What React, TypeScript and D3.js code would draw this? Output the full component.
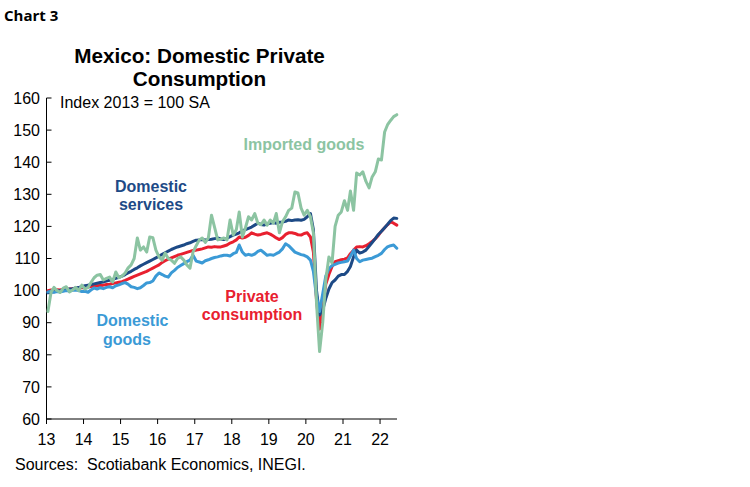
import React from "react";
import * as d3 from "d3";

// Monthly data, Jan 2013 – Jun 2022 (index 2013 = 100, SA)
const domesticServices = [
  99.3, 99.5, 99.6, 99.8, 100.0, 100.1, 100.3, 100.5, 100.6, 100.8, 101.0, 101.2,
  101.5, 101.7, 101.9, 102.1, 102.3, 102.5, 102.7, 103.0, 103.2, 103.5, 103.8, 104.1,
  104.5, 105.0, 105.5, 106.0, 106.6, 107.1, 107.7, 108.2, 108.7, 109.2, 109.7, 110.2,
  110.7, 111.3, 111.8, 112.3, 112.8, 113.2, 113.6, 113.9, 114.2, 114.6, 114.9, 115.3,
  115.7, 115.8, 115.9, 115.8, 115.9, 116.0, 116.2, 116.4, 116.1, 115.9, 116.3, 116.8,
  117.3, 117.6, 118.0, 118.6, 119.0, 119.4, 119.8, 120.4, 121.0, 120.6, 120.4, 120.8,
  121.0, 121.2, 121.0, 121.3, 121.4, 121.6, 122.0, 121.8, 122.0, 122.1, 121.9, 122.2,
  123.0, 124.0, 119.0, 100.0, 92.4, 94.0, 97.5, 100.5, 102.5, 103.3, 104.5, 105.0,
  105.0, 106.0, 107.5, 110.5, 112.6, 111.7, 112.0, 112.6, 113.8, 115.0, 116.2, 117.5,
  118.5, 119.6, 120.6, 121.8, 122.6, 122.5,
];

const privateConsumption = [
  100.0, 100.2, 100.1, 100.3, 100.2, 100.4, 100.3, 100.5, 100.6, 100.7, 100.8, 100.9,
  101.0, 101.1, 101.3, 101.4, 101.5, 101.6, 101.7, 101.9, 102.0, 102.2, 102.4, 102.6,
  102.8, 103.2, 103.6, 104.0, 104.4, 104.8, 105.2, 105.6, 106.0, 106.5, 107.0, 107.5,
  108.0, 108.8, 109.3, 109.8, 110.2, 110.6, 111.0, 111.3, 111.6, 111.9, 112.2, 112.5,
  112.6, 112.8, 113.0, 113.3, 113.6, 113.5, 113.7, 113.6, 113.6, 113.9, 114.2, 114.8,
  115.2, 115.8, 116.7, 116.4, 116.6, 117.2, 118.0, 117.6, 117.3, 117.5, 117.8, 118.0,
  117.6, 117.0, 116.4, 115.9, 116.5, 117.5, 118.0, 118.0, 117.8, 117.4, 117.3, 117.8,
  118.0, 116.7, 112.0, 97.0, 88.0, 95.0, 102.0, 105.0, 107.5, 109.0, 109.3, 109.6,
  109.8, 110.2, 111.5, 112.6, 113.6, 113.7, 113.6, 114.0, 114.6, 115.3, 116.2, 117.2,
  118.5, 119.6, 120.5, 121.4, 121.0, 120.4,
];

const domesticGoods = [
  99.6, 99.8, 99.5, 99.7, 99.6, 99.8, 100.0, 99.9, 100.1, 100.2, 100.0, 99.7,
  99.8, 99.5, 100.2, 100.8, 100.5, 100.9, 100.6, 101.0, 101.2, 100.9, 101.5, 101.8,
  102.2, 102.5, 102.0, 101.2, 101.0, 100.6, 100.9, 101.6, 102.4, 102.5, 103.0, 104.5,
  105.5, 105.0, 104.5, 104.2, 105.5, 106.3, 107.2, 107.8, 108.4, 109.0, 109.5, 111.0,
  109.2, 108.9, 108.6, 109.3, 109.6, 110.0, 110.3, 110.5, 110.8, 111.0, 111.0, 110.8,
  111.5, 111.9, 114.2, 112.0, 111.0, 111.3, 111.0, 111.4, 112.2, 112.6, 111.8, 111.0,
  111.2, 111.0, 111.5, 112.0, 113.0, 114.6, 114.0, 113.0, 112.0, 111.6, 111.2, 111.0,
  110.5, 109.5, 106.0, 98.0, 93.5, 99.0, 104.5, 106.8, 107.8, 108.2, 108.6, 108.8,
  109.0, 109.2, 110.8, 112.6, 110.0, 109.0, 109.5, 109.7, 109.9, 110.1, 110.6, 111.0,
  111.6, 112.8, 113.6, 114.0, 114.2, 113.2,
];

const importedGoods = [
  93.5, 99.5, 101.0, 100.0, 99.4, 100.8, 101.2, 99.6, 100.2, 101.0, 100.0, 101.7,
  100.5, 101.0, 102.5, 104.0, 104.8, 105.0, 103.3, 103.8, 104.2, 102.7, 105.8, 104.0,
  104.5, 105.5, 107.0, 108.0, 110.0, 116.4, 112.6, 113.6, 112.0, 116.7, 116.5, 112.6,
  110.5, 109.5, 111.7, 110.0, 109.5, 108.5, 110.0, 110.5, 109.5, 108.0, 107.0, 112.0,
  114.0, 115.8, 116.4, 115.0, 116.4, 123.5, 119.8, 115.8, 116.0, 116.4, 115.8, 122.0,
  117.3, 119.0, 124.5, 116.7, 119.5, 123.0, 122.0, 124.0, 121.0, 120.5, 122.0, 120.4,
  122.0, 121.0, 124.0, 118.0, 121.4, 123.0, 125.0, 125.7, 130.7, 130.4, 125.7, 123.5,
  125.0, 123.0, 118.0, 96.0, 81.0, 90.0, 103.3, 110.5, 108.6, 120.0, 123.5, 124.5,
  128.0, 125.0, 131.0, 125.0, 136.6, 136.0, 137.0, 134.0, 132.0, 135.4, 137.0, 141.0,
  140.7, 149.4, 151.6, 153.0, 154.2, 154.8,
];

const yTicks = [60, 70, 80, 90, 100, 110, 120, 130, 140, 150, 160];
const xTickYears = [2013, 2014, 2015, 2016, 2017, 2018, 2019, 2020, 2021, 2022];
const xTickLabels = ["13", "14", "15", "16", "17", "18", "19", "20", "21", "22"];

const series = [
  { name: "Private consumption", values: privateConsumption, color: "#e8202f" },
  { name: "Domestic services", values: domesticServices, color: "#1d4a86" },
  { name: "Domestic goods", values: domesticGoods, color: "#3b9ad6" },
  { name: "Imported goods", values: importedGoods, color: "#8cc4a2" },
];

const W = 750;
const H = 487;
const left = 46.5;
const right = 397;
const top = 98;
const bottom = 419;

export default function App() {
  const x = d3
    .scaleTime()
    .domain([new Date(2013, 0, 1), new Date(2022, 5, 17)])
    .range([left, right]);
  const y = d3.scaleLinear().domain([60, 160]).range([bottom, top]);
  const dateOf = (i: number) => new Date(2013, i, 15);
  const line = d3
    .line<number>()
    .x((_, i) => x(dateOf(i)))
    .y((v) => y(v))
    .curve(d3.curveLinear);

  const font = "Arial, 'Liberation Sans', sans-serif";

  return (
    <svg
      width={W}
      height={H}
      viewBox={`0 0 ${W} ${H}`}
      style={{ position: "absolute", left: 0, top: 0, background: "#fff" }}
    >
      <rect x={0} y={0} width={W} height={H} fill="#fff" />
      <text x={4} y={21} fontFamily="'Open Sans', sans-serif" fontWeight={700} fontSize={15} fill="#000">
        Chart 3
      </text>
      <text x={199.5} y={63} textAnchor="middle" fontFamily={font} fontWeight={700} fontSize={20.7} fill="#000">
        Mexico: Domestic Private
      </text>
      <text x={199.5} y={86} textAnchor="middle" fontFamily={font} fontWeight={700} fontSize={20.7} fill="#000">
        Consumption
      </text>

      {/* Axes */}
      <line x1={left} x2={left} y1={top} y2={bottom} stroke="#000" strokeWidth={1} />
      <line x1={left} x2={right} y1={bottom} y2={bottom} stroke="#000" strokeWidth={1} />
      {yTicks.map((t) => (
        <g key={t}>
          <line x1={left} x2={left + 5} y1={y(t)} y2={y(t)} stroke="#000" strokeWidth={1} />
          <text x={40} y={y(t)} dy="0.36em" textAnchor="end" fontFamily={font} fontSize={16} fill="#000">
            {t}
          </text>
        </g>
      ))}
      {xTickYears.map((yr, k) => (
        <g key={yr}>
          <line
            x1={x(new Date(yr, 0, 1))}
            x2={x(new Date(yr, 0, 1))}
            y1={bottom}
            y2={bottom + 5}
            stroke="#000"
            strokeWidth={1}
          />
          <text
            x={x(new Date(yr, 0, 1))}
            y={445}
            textAnchor="middle"
            fontFamily={font}
            fontSize={16}
            fill="#000"
          >
            {xTickLabels[k]}
          </text>
        </g>
      ))}

      <text x={60} y={108} fontFamily={font} fontSize={16} fill="#000">
        Index 2013 = 100 SA
      </text>

      {/* Lines */}
      {series.map((s) => (
        <path
          key={s.name}
          d={line(s.values) || ""}
          fill="none"
          stroke={s.color}
          strokeWidth={3}
          strokeLinejoin="round"
          strokeLinecap="round"
        />
      ))}

      {/* Series labels */}
      <g fontFamily={font} fontWeight={700} fontSize={16} textAnchor="middle">
        <text x={151} y={191.5} fill="#1d4a86">Domestic</text>
        <text x={151} y={210} fill="#1d4a86">services</text>
        <text x={304} y={149.5} fill="#8cc4a2">Imported goods</text>
        <text x={252} y={301.5} fill="#e8202f">Private</text>
        <text x={252} y={319.5} fill="#e8202f">consumption</text>
        <text x={132.5} y={326} fill="#3b9ad6">Domestic</text>
        <text x={127} y={344.5} fill="#3b9ad6">goods</text>
      </g>

      <text x={15} y={470} fontFamily={font} fontSize={16} fill="#000" xmlSpace="preserve">
        {"Sources:  Scotiabank Economics, INEGI."}
      </text>
    </svg>
  );
}
